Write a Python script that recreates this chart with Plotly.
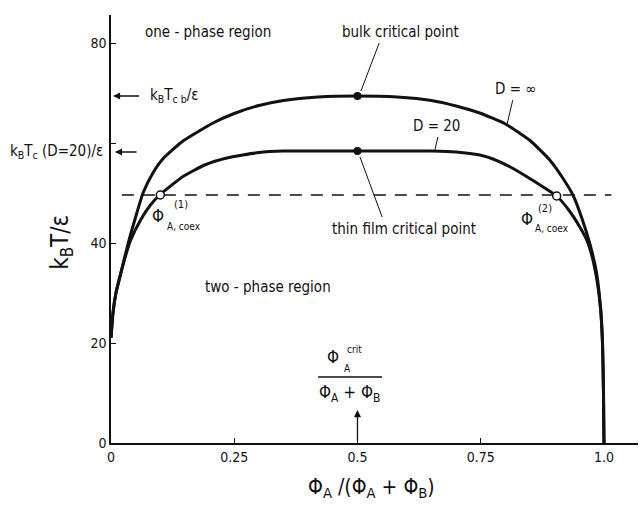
import plotly.graph_objects as go

# Coexistence curves: composition phi_A/(phi_A+phi_B) vs reduced temperature k_B T / eps
phi_bulk = [0.0, 0.004, 0.01, 0.02, 0.035, 0.05, 0.065, 0.085, 0.105, 0.146, 0.207, 0.25,
            0.30, 0.35, 0.42, 0.5, 0.58, 0.65, 0.70, 0.748, 0.80, 0.85, 0.89, 0.915,
            0.937, 0.955, 0.972, 0.985, 0.993, 0.997, 0.999, 1.0]
T_bulk = [21, 26, 30, 34, 40, 45.2, 50, 54, 56.8, 60.4, 64, 65.9,
          67.5, 68.5, 69.2, 69.4, 69.2, 68.5, 67.4, 66, 63.8, 60.5, 56.6, 53.2,
          49.6, 45, 39.6, 34, 27, 20, 10, 0]

phi_film = [0.0, 0.004, 0.01, 0.02, 0.03, 0.04, 0.06, 0.08, 0.10, 0.146, 0.19, 0.235,
            0.30, 0.35, 0.5, 0.65, 0.70, 0.748, 0.775, 0.81, 0.843, 0.875, 0.904,
            0.93, 0.951, 0.965, 0.974, 0.985, 0.993, 0.997, 0.999, 1.0]
T_film = [21, 26, 30, 34, 37.6, 40.6, 44.6, 47.6, 49.7, 53.3, 55.6, 57,
          58.1, 58.4, 58.4, 58.4, 58.2, 57.6, 56.8, 55.2, 53.3, 51.3, 49.4,
          46.4, 43.2, 40.6, 38, 33, 27, 20, 10, 0]

# critical points and coexistence points on the isotherm
crit_phi = [0.5, 0.5]
crit_T = [69.4, 58.4]
coex_phi = [0.1, 0.904]
coex_T = [49.6, 49.4]
iso_phi = [0.022, 1.015]
iso_T = [49.6, 49.6]

x_ticks = [0, 0.25, 0.5, 0.75, 1.0]
x_ticktext = ["0", "0.25", "0.5", "0.75", "1.0"]
y_ticks = [0, 20, 40, 60, 80]
y_ticktext = ["0", "20", "40", "", "80"]

FONT = "Liberation Sans Narrow, DejaVu Sans Condensed, Arial Narrow, sans-serif"
BLACK = "#111111"

fig = go.Figure()
fig.add_trace(go.Scatter(x=phi_bulk, y=T_bulk, mode="lines",
                         line=dict(color=BLACK, width=3, shape="spline", smoothing=0.5)))
fig.add_trace(go.Scatter(x=phi_film, y=T_film, mode="lines",
                         line=dict(color=BLACK, width=3, shape="spline", smoothing=0.5)))
fig.add_trace(go.Scatter(x=iso_phi, y=iso_T, mode="lines",
                         line=dict(color=BLACK, width=1.6, dash="12px,9px")))
fig.add_trace(go.Scatter(x=crit_phi, y=crit_T, mode="markers",
                         marker=dict(color=BLACK, size=8)))
fig.add_trace(go.Scatter(x=coex_phi, y=coex_T, mode="markers",
                         marker=dict(color="white", size=8, line=dict(color=BLACK, width=1.5))))

ann = []


def text(x, y, s, size=15, xanchor="center", yanchor="middle", angle=0, ref="data"):
    xr, yr = ("x", "y") if ref == "data" else ("paper", "paper")
    ann.append(dict(x=x, y=y, xref=xr, yref=yr, text=s, showarrow=False,
                    xanchor=xanchor, yanchor=yanchor, textangle=angle,
                    font=dict(family=FONT, size=size, color=BLACK)))


def arrow(x, y, ax, ay):
    ann.append(dict(x=x, y=y, ax=ax, ay=ay, xref="x", yref="y", axref="x", ayref="y",
                    text="", showarrow=True, arrowhead=2, arrowsize=1.1,
                    arrowwidth=1.3, arrowcolor=BLACK))


text(0.065, 82.2, "one - phase region", xanchor="left")
text(0.465, 82.2, "bulk critical point", xanchor="left")
text(0.075, 69.6, "k<sub>B</sub>T<sub>c b</sub>/ε", xanchor="left")
arrow(0.004, 69.4, 0.06, 69.4)
text(-0.011, 0.682, "k<sub>B</sub>T<sub>c</sub> (D=20)/ε", xanchor="right", ref="paper")
arrow(0.008, 58.2, 0.055, 58.2)
text(0.822, 70.8, "D = ∞")
text(0.661, 63.4, "D = 20")
text(0.744, 42.8, "thin film critical point", xanchor="right")
text(0.187, 31.2, "two - phase region", xanchor="left")

# coexistence labels
text(0.095, 45.4, "Φ", size=17)
text(0.142, 47.8, "(1)", size=11)
text(0.109, 43.4, "A, coex", size=10, xanchor="left")
text(0.844, 44.8, "Φ", size=17)
text(0.881, 47.0, "(2)", size=11)
text(0.857, 43.0, "A, coex", size=10, xanchor="left")

# critical composition fraction
text(0.450, 17.2, "Φ", size=17)
text(0.493, 18.8, "crit", size=10)
text(0.479, 15.0, "A", size=10)
text(0.483, 10.0, "Φ<sub>A</sub> + Φ<sub>B</sub>", size=17)
arrow(0.5, 6.6, 0.5, 0.2)

# axis titles
text(-0.093, 0.47, "k<sub>B</sub>T/ε", size=24, angle=-90, ref="paper")
text(0.495, -0.105, "Φ<sub>A</sub> /(Φ<sub>A</sub> + Φ<sub>B</sub>)", size=21, ref="paper")

shapes = [
    # leader lines
    dict(type="line", xref="x", yref="y", x0=0.544, y0=80.0, x1=0.507, y1=70.4,
         line=dict(color=BLACK, width=1)),
    dict(type="line", xref="x", yref="y", x0=0.815, y0=68.6, x1=0.803, y1=63.6,
         line=dict(color=BLACK, width=1)),
    dict(type="line", xref="x", yref="y", x0=0.663, y0=61.2, x1=0.657, y1=58.6,
         line=dict(color=BLACK, width=1)),
    dict(type="line", xref="x", yref="y", x0=0.505, y0=57.2, x1=0.55, y1=45.2,
         line=dict(color=BLACK, width=1)),
    # fraction bar
    dict(type="line", xref="x", yref="y", x0=0.42, y0=13.2, x1=0.55, y1=13.2,
         line=dict(color=BLACK, width=1.5)),
]

fig.update_layout(
    width=640, height=508,
    margin=dict(l=111, r=2, t=15, b=65),
    paper_bgcolor="white", plot_bgcolor="white",
    showlegend=False,
    annotations=ann, shapes=shapes,
    font=dict(family=FONT, color=BLACK),
)
fig.update_xaxes(range=[0, 1.069], showgrid=False, zeroline=False,
                 showline=True, linecolor=BLACK, linewidth=1.5,
                 tickvals=x_ticks, ticktext=x_ticktext,
                 ticks="inside", ticklen=5, tickcolor=BLACK, tickwidth=1,
                 tickfont=dict(family=FONT, size=14, color=BLACK))
fig.update_yaxes(range=[0, 85.6], showgrid=False, zeroline=False,
                 showline=True, linecolor=BLACK, linewidth=1.5,
                 tickvals=y_ticks, ticktext=y_ticktext,
                 ticks="inside", ticklen=5, tickcolor=BLACK, tickwidth=1,
                 tickfont=dict(family=FONT, size=14, color=BLACK))

fig.write_html("out.html")
